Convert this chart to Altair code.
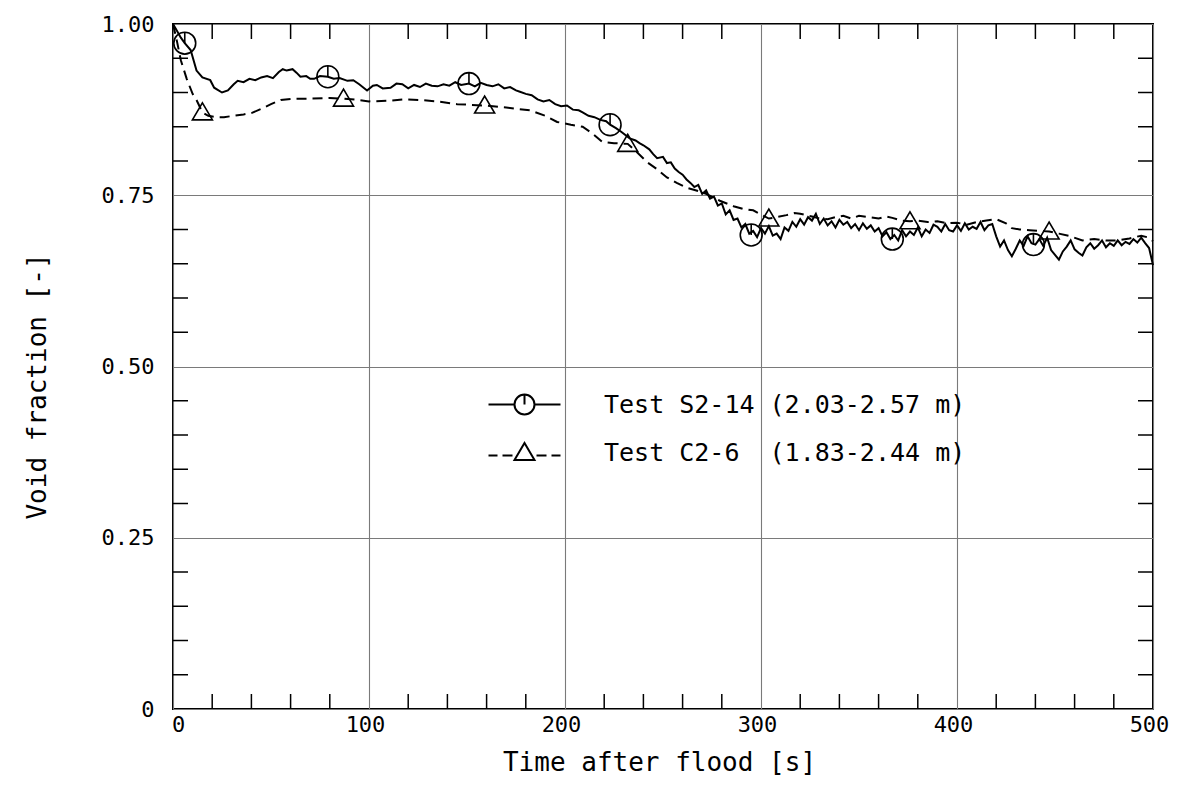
import altair as alt
import pandas as pd

# ---- data ----
s_t = [0, 2, 4, 6, 9, 12, 15, 19, 21, 25, 28, 31, 33, 36, 39, 42, 45, 48, 51, 54, 56, 58, 61, 63, 65, 68, 70, 72, 75, 79,
       82, 85, 89, 92, 95, 99, 102, 104, 107, 111, 114, 117, 120, 123, 126, 129, 132, 135, 138, 141, 144, 147, 151, 154,
       157, 160, 163, 166, 169, 172, 175, 177, 180, 183, 186, 189, 192, 195, 198, 201, 204, 207, 209, 212, 215, 218, 221,
       223, 226, 229, 233, 236, 238, 240, 243, 245, 247, 250, 252, 254, 256, 258, 260, 262, 264, 266, 268, 270, 272, 274,
       276, 278, 280, 282, 284, 286, 288, 290, 292, 294, 296, 298, 300, 302, 304, 306, 308, 310, 312, 314, 316, 318, 320,
       322, 324, 326, 328, 330, 332, 334, 336, 338, 340, 342, 344, 346, 348, 350, 352, 354, 356, 358, 360, 362, 364, 366,
       368, 370, 372, 374, 376, 378, 380, 382, 384, 386, 388, 390, 392, 394, 396, 398, 400, 402, 404, 406, 408, 410, 412,
       414, 416, 418, 420, 422, 424, 426, 428, 430, 432, 434, 436, 438, 440, 442, 444, 446, 448, 450, 452, 454, 456, 458,
       460, 462, 464, 466, 468, 470, 472, 474, 476, 478, 480, 482, 484, 486, 488, 490, 492, 494, 496, 498, 500]
s_v = [1.000, 0.990, 0.980, 0.972, 0.962, 0.932, 0.922, 0.918, 0.907, 0.900, 0.903, 0.912, 0.917, 0.915, 0.920, 0.918,
       0.922, 0.924, 0.921, 0.930, 0.934, 0.932, 0.934, 0.929, 0.923, 0.924, 0.920, 0.920, 0.924, 0.923, 0.920, 0.921,
       0.917, 0.918, 0.912, 0.903, 0.910, 0.911, 0.906, 0.907, 0.913, 0.912, 0.906, 0.911, 0.908, 0.913, 0.910, 0.909,
       0.912, 0.910, 0.915, 0.911, 0.913, 0.909, 0.914, 0.911, 0.909, 0.912, 0.906, 0.908, 0.903, 0.901, 0.898, 0.896,
       0.890, 0.887, 0.889, 0.883, 0.880, 0.881, 0.875, 0.874, 0.871, 0.866, 0.864, 0.860, 0.858, 0.853, 0.848, 0.842,
       0.833, 0.830, 0.826, 0.823, 0.817, 0.810, 0.804, 0.806, 0.797, 0.798, 0.789, 0.784, 0.780, 0.773, 0.768, 0.762,
       0.765, 0.752, 0.757, 0.745, 0.748, 0.735, 0.738, 0.722, 0.728, 0.714, 0.716, 0.703, 0.708, 0.694, 0.698, 0.689,
       0.702, 0.694, 0.705, 0.691, 0.694, 0.686, 0.703, 0.698, 0.711, 0.704, 0.715, 0.707, 0.718, 0.713, 0.723, 0.708,
       0.716, 0.706, 0.712, 0.703, 0.714, 0.707, 0.711, 0.702, 0.708, 0.699, 0.709, 0.701, 0.706, 0.697, 0.702, 0.690,
       0.696, 0.686, 0.692, 0.684, 0.699, 0.690, 0.697, 0.692, 0.703, 0.690, 0.700, 0.695, 0.707, 0.704, 0.697, 0.708,
       0.699, 0.697, 0.706, 0.698, 0.709, 0.700, 0.704, 0.701, 0.711, 0.699, 0.706, 0.708, 0.690, 0.675, 0.684, 0.670,
       0.661, 0.672, 0.684, 0.676, 0.690, 0.680, 0.678, 0.686, 0.676, 0.688, 0.670, 0.663, 0.656, 0.668, 0.675, 0.684,
       0.671, 0.666, 0.662, 0.674, 0.680, 0.672, 0.677, 0.684, 0.674, 0.680, 0.676, 0.684, 0.677, 0.682, 0.679, 0.686,
       0.681, 0.688, 0.680, 0.673, 0.648]

c_t = [0, 2, 4, 7, 10, 12, 15, 18, 22, 26, 31, 36, 40, 45, 50, 55, 62, 70, 80, 87, 95, 100, 110, 118, 126, 135, 145, 152,
       159, 170, 182, 190, 196, 203, 209, 214, 219, 225, 232, 237, 242, 247, 252, 257, 262, 267, 272, 279, 286, 291, 296,
       300, 304, 308, 313, 317, 320, 326, 330, 334, 338, 342, 346, 350, 355, 360, 364, 367, 372, 376, 380, 385, 390, 395,
       400, 405, 410, 415, 420, 425, 428, 432, 437, 442, 447, 452, 458, 464, 470, 476, 482, 488, 494, 498, 500]
c_v = [1.000, 0.975, 0.947, 0.920, 0.898, 0.889, 0.871, 0.866, 0.864, 0.864, 0.866, 0.868, 0.870, 0.876, 0.883, 0.889,
       0.891, 0.891, 0.892, 0.891, 0.889, 0.887, 0.888, 0.890, 0.889, 0.887, 0.883, 0.882, 0.881, 0.878, 0.874, 0.866,
       0.857, 0.853, 0.850, 0.840, 0.828, 0.826, 0.825, 0.812, 0.798, 0.788, 0.776, 0.768, 0.761, 0.757, 0.752, 0.742,
       0.734, 0.730, 0.728, 0.722, 0.716, 0.718, 0.721, 0.724, 0.723, 0.719, 0.716, 0.715, 0.718, 0.720, 0.716, 0.720,
       0.718, 0.716, 0.719, 0.717, 0.713, 0.712, 0.713, 0.711, 0.712, 0.709, 0.710, 0.707, 0.711, 0.713, 0.715, 0.709,
       0.702, 0.700, 0.699, 0.698, 0.697, 0.694, 0.690, 0.684, 0.686, 0.684, 0.684, 0.687, 0.691, 0.688, 0.683]

s_mark_t = [6, 79, 151, 223, 295, 367, 439]
s_mark_v = [0.972, 0.923, 0.913, 0.853, 0.692, 0.686, 0.678]
c_mark_t = [15, 87, 159, 232, 304, 376, 447]
c_mark_v = [0.871, 0.891, 0.881, 0.825, 0.716, 0.712, 0.697]

series_names = ["Test S2-14 (2.03-2.57 m)", "Test C2-6\u00a0\u00a0(1.83-2.44 m)"]

x_ticks = [0, 100, 200, 300, 400, 500]
y_ticks = [0, 0.25, 0.5, 0.75, 1.0]
x_minor = [20, 40, 60, 80, 120, 140, 160, 180, 220, 240, 260, 280, 320, 340, 360, 380, 420, 440, 460, 480]
y_minor = [0.05, 0.10, 0.15, 0.20, 0.30, 0.35, 0.40, 0.45, 0.55, 0.60, 0.65, 0.70, 0.80, 0.85, 0.90, 0.95]

# ---- chart ----
W, H = 980, 685
FONT = "DejaVu Sans Mono"

s_df = pd.DataFrame({"t": s_t, "v": s_v})
c_df = pd.DataFrame({"t": c_t, "v": c_v})
sm_df = pd.DataFrame({"t": s_mark_t, "v": s_mark_v})
cm_df = pd.DataFrame({"t": c_mark_t, "v": c_mark_v})
xm_df = pd.DataFrame({"t": x_minor})
ym_df = pd.DataFrame({"v": y_minor})
leg_df = pd.DataFrame({"name": series_names})

xs = alt.Scale(domain=[0, 500], nice=False, zero=False)
ys = alt.Scale(domain=[0, 1], nice=False, zero=False)

x_axis = alt.Axis(values=x_ticks, grid=True, gridColor="#7a7a7a", gridWidth=1.1, tickSize=0, domain=False,
                  labelFont=FONT, labelFontSize=22, labelColor="black", labelPadding=5,
                  labelOffset={"condition": {"test": "datum.value == 0", "value": 5}, "value": -4},
                  labelFlush=False, format="d",
                  titleFont=FONT, titleFontSize=26, titleFontWeight="normal", titleColor="black",
                  titleX=486, titleY=40, titleBaseline="top", titleAlign="center")
y_axis = alt.Axis(values=y_ticks, grid=True, gridColor="#7a7a7a", gridWidth=1.1, tickSize=0, domain=False,
                  labelFont=FONT, labelFontSize=22, labelColor="black", labelPadding=19, labelFlush=False,
                  labelExpr="datum.value == 0 ? '0' : format(datum.value, '.2f')",
                  titleFont=FONT, titleFontSize=26, titleFontWeight="normal", titleColor="black",
                  titleX=-136, titleY=362, titleAlign="center", titleBaseline="middle")

X = alt.X("t:Q", scale=xs, axis=x_axis, title="Time after flood [s]")
Y = alt.Y("v:Q", scale=ys, axis=y_axis, title="Void fraction [-]")

line_s = alt.Chart(s_df).mark_line(color="black", strokeWidth=2).encode(x=X, y=Y)
line_c = alt.Chart(c_df).mark_line(color="black", strokeWidth=2, strokeDash=[10, 6]).encode(x=X, y=Y)

circle_path = "M0,-1A1,1,0,1,1,0,1A1,1,0,1,1,0,-1M0,-1L0,0"
tri_path = "M-1,0.75L0,-0.95L1,0.75Z"

pts_s = alt.Chart(sm_df).mark_point(shape=circle_path, size=480, filled=False, color="black",
                                    strokeWidth=1.6, opacity=1).encode(x=X, y=Y)
pts_c = alt.Chart(cm_df).mark_point(shape=tri_path, size=400, filled=False, color="black",
                                    strokeWidth=1.6, opacity=1).encode(x=X, y=Y)

tick_style = dict(color="black", strokeWidth=1.5)
xt_bottom = alt.Chart(xm_df).mark_rule(**tick_style).encode(x=X, y=alt.value(H), y2=alt.value(H - 15))
xt_top = alt.Chart(xm_df).mark_rule(**tick_style).encode(x=X, y=alt.value(0), y2=alt.value(15))
yt_left = alt.Chart(ym_df).mark_rule(**tick_style).encode(y=Y, x=alt.value(0), x2=alt.value(15))
yt_right = alt.Chart(ym_df).mark_rule(**tick_style).encode(y=Y, x=alt.value(W), x2=alt.value(W - 15))

leg_s_path = "M-3.6,0L-1,0M1,0L3.6,0" + "M0,-1A1,1,0,1,1,0,1A1,1,0,1,1,0,-1M0,-1L0,0"
leg_c_path = ("M-3.6,0.3L-2.7,0.3M-2.2,0.3L-1.2,0.3M1.2,0.3L2.2,0.3M2.7,0.3L3.6,0.3"
              "M-1,0.75L0,-0.95L1,0.75Z")

legend_layer = alt.Chart(leg_df).mark_point(filled=False, color="black", strokeWidth=2, opacity=1).encode(
    shape=alt.Shape("name:N",
                    scale=alt.Scale(domain=series_names, range=[leg_s_path, leg_c_path]),
                    legend=alt.Legend(orient="none", legendX=339, legendY=368, title=None,
                                      symbolSize=400, symbolStrokeWidth=2, symbolStrokeColor="black",
                                      symbolFillColor="transparent",
                                      labelFont=FONT, labelFontSize=25, labelColor="black",
                                      labelOffset=67, rowPadding=20, labelLimit=600, padding=0)),
).transform_filter("false")

chart = alt.layer(
    line_s, line_c, pts_s, pts_c, xt_bottom, xt_top, yt_left, yt_right, legend_layer
).properties(
    width=W, height=H,
    autosize=alt.AutoSizeParams(type="none"),
    padding={"left": 173, "top": 24, "right": 27, "bottom": 78},
    background="white",
).configure_view(
    stroke="black", strokeWidth=2
)

chart.save("out.html", embed_options={"renderer": "svg", "actions": False})
